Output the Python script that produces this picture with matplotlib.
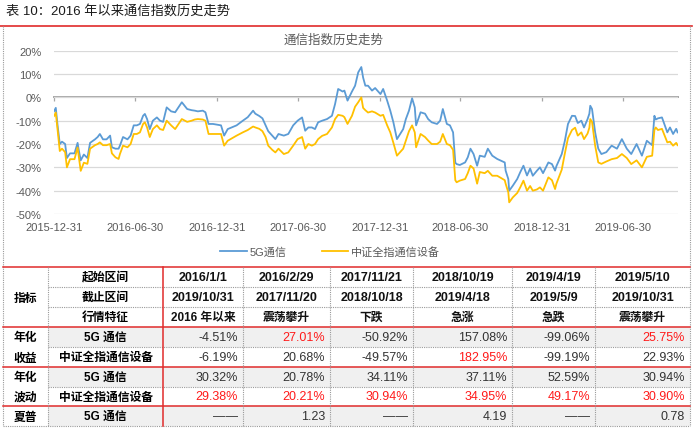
import matplotlib
matplotlib.use('Agg')
import matplotlib.pyplot as plt
import matplotlib.dates as mdates
import pandas as pd

plt.rcParams['font.family'] = ['Liberation Sans', 'Noto Sans CJK SC', 'DejaVu Sans']

# 走势数据（读图估计，%）
dates = [
    '2015-12-31', '2016-01-04', '2016-01-08', '2016-01-13', '2016-01-18', '2016-01-25', '2016-01-29',
    '2016-02-05', '2016-02-15', '2016-02-22', '2016-02-24', '2016-02-29', '2016-03-07', '2016-03-15',
    '2016-03-21', '2016-04-01', '2016-04-07', '2016-04-12', '2016-04-19', '2016-04-27', '2016-05-05',
    '2016-05-09', '2016-05-17', '2016-05-24', '2016-05-27', '2016-06-03', '2016-06-13', '2016-06-20',
    '2016-06-27', '2016-07-04', '2016-07-11', '2016-07-18', '2016-07-22', '2016-07-27', '2016-08-02',
    '2016-08-09', '2016-08-18', '2016-08-25', '2016-09-01', '2016-09-09', '2016-09-19', '2016-09-28',
    '2016-10-13', '2016-10-25', '2016-11-04', '2016-11-11', '2016-11-18', '2016-11-29', '2016-12-05',
    '2016-12-12', '2016-12-22', '2017-01-09', '2017-01-16', '2017-01-24', '2017-02-13', '2017-02-27',
    '2017-03-10', '2017-03-22', '2017-03-27', '2017-04-05', '2017-04-12', '2017-04-19', '2017-04-25',
    '2017-05-04', '2017-05-11', '2017-05-18', '2017-05-30', '2017-06-09', '2017-06-20', '2017-06-30',
    '2017-07-10', '2017-07-17', '2017-07-24', '2017-08-01', '2017-08-08', '2017-08-15', '2017-08-24',
    '2017-09-04', '2017-09-15', '2017-09-22', '2017-09-29', '2017-10-09', '2017-10-13', '2017-10-20',
    '2017-10-30', '2017-11-06', '2017-11-13', '2017-11-20', '2017-11-24', '2017-11-29', '2017-12-05',
    '2017-12-14', '2017-12-21', '2018-01-02', '2018-01-08', '2018-01-17', '2018-01-24', '2018-01-31',
    '2018-02-08', '2018-02-22', '2018-02-28', '2018-03-07', '2018-03-14', '2018-03-20', '2018-03-23',
    '2018-04-02', '2018-04-12', '2018-04-19', '2018-04-27', '2018-05-09', '2018-05-16', '2018-05-22',
    '2018-05-31', '2018-06-07', '2018-06-14', '2018-06-19', '2018-06-22', '2018-06-29', '2018-07-11',
    '2018-07-17', '2018-07-23', '2018-07-30', '2018-08-07', '2018-08-13', '2018-08-24', '2018-08-31',
    '2018-09-10', '2018-09-21', '2018-10-08', '2018-10-10', '2018-10-16', '2018-10-18', '2018-10-26',
    '2018-11-05', '2018-11-12', '2018-11-19', '2018-11-27', '2018-12-04', '2018-12-10', '2018-12-19',
    '2018-12-26', '2019-01-02', '2019-01-14', '2019-01-22', '2019-01-29', '2019-02-01', '2019-02-13',
    '2019-02-20', '2019-02-27', '2019-03-08', '2019-03-15', '2019-03-21', '2019-03-29', '2019-04-04',
    '2019-04-12', '2019-04-16', '2019-04-18', '2019-04-22', '2019-04-29', '2019-05-06', '2019-05-13',
    '2019-05-24', '2019-06-05', '2019-06-17', '2019-06-28', '2019-07-09', '2019-07-19', '2019-07-31',
    '2019-08-12', '2019-08-23', '2019-09-04', '2019-09-09', '2019-09-12', '2019-09-17', '2019-09-26',
    '2019-10-08', '2019-10-14', '2019-10-21', '2019-10-28', '2019-10-31',
]
g5 = [
    -6.0, -4.5, -12.0, -20.0, -19.0, -20.0, -26.0,
    -24.0, -24.0, -19.5, -22.0, -27.0, -24.5, -26.0,
    -19.5, -18.0, -17.0, -15.7, -18.0, -18.0, -16.4,
    -21.4, -22.0, -22.0, -20.7, -17.0, -18.0, -16.4,
    -12.0, -12.0, -11.4, -7.9, -7.1, -9.3, -13.6,
    -10.0, -8.6, -10.0, -10.5, -4.3, -6.0, -6.4,
    -2.1, -5.0, -5.5, -5.7, -6.0, -5.7, -6.4,
    -11.4, -11.4, -12.0, -16.4, -13.6, -12.0, -10.0,
    -8.5, -5.7, -7.0, -8.0, -9.0, -12.0, -14.5,
    -16.4, -17.9, -15.7, -16.4, -15.7, -12.0, -10.0,
    -8.6, -14.3, -12.9, -12.9, -13.6, -10.7, -10.0,
    -9.3, -7.9, -2.9, 3.6, 2.5, 2.9, -1.4,
    2.5, 5.0, 10.7, 13.0, 8.5, 5.0, 5.0,
    2.9, 4.0, 1.4, 3.6, -1.4, -5.7, -10.7,
    -17.9, -13.6, -9.3, -5.7, -0.4, -4.3, -12.0,
    -6.4, -7.0, -9.3, -10.7, -11.4, -10.0, -5.0,
    -11.4, -12.0, -15.0, -28.0, -28.6, -29.0, -27.9,
    -25.7, -22.0, -24.3, -29.3, -25.0, -25.5, -22.0,
    -25.0, -26.4, -27.9, -31.4, -35.0, -40.0, -37.9,
    -35.0, -32.0, -29.3, -33.5, -30.5, -33.6, -31.5,
    -30.0, -32.5, -27.9, -28.6, -31.4, -29.5, -24.3,
    -18.6, -11.4, -7.9, -8.0, -11.0, -10.0, -12.9,
    -9.3, -7.0, -3.6, -5.0, -15.0, -22.0, -24.3,
    -23.5, -20.7, -22.0, -17.9, -22.0, -24.3, -20.0,
    -25.0, -18.6, -20.5, -7.9, -9.5, -9.0, -8.6,
    -15.0, -12.9, -15.7, -13.5, -15.0,
]
equip = [
    -8.0, -6.5, -14.0, -23.0, -22.0, -23.5, -30.0,
    -26.5, -26.5, -21.5, -24.5, -31.5, -28.0, -28.5,
    -22.0, -20.5, -20.0, -19.3, -20.5, -20.5, -20.0,
    -24.0, -25.7, -26.4, -24.3, -20.7, -21.4, -20.0,
    -15.7, -15.7, -15.0, -11.4, -10.7, -12.9, -17.0,
    -13.6, -12.0, -13.6, -14.0, -10.0, -12.0, -13.6,
    -9.3, -10.5, -10.0, -9.5, -9.3, -9.5, -10.0,
    -15.7, -15.7, -15.7, -20.7, -18.6, -16.4, -15.0,
    -14.0, -12.5, -12.9, -13.5, -14.5, -17.0, -20.7,
    -22.5, -23.6, -22.0, -24.3, -23.6, -20.7, -17.9,
    -17.0, -22.0, -20.0, -20.7, -20.0, -17.9, -16.5,
    -15.7, -12.9, -9.3, -7.5, -7.9, -8.5, -11.4,
    -7.9, -4.0, -2.1, 0.0, -4.5, -5.5, -6.5,
    -6.0, -6.5, -7.9, -7.5, -12.0, -15.0, -19.5,
    -25.0, -22.0, -18.5, -14.5, -12.0, -15.0, -21.4,
    -15.7, -17.0, -18.5, -20.0, -20.0, -19.0, -15.7,
    -20.0, -20.5, -22.5, -35.5, -36.4, -35.7, -35.0,
    -32.5, -29.3, -30.5, -37.0, -32.0, -32.5, -31.5,
    -33.6, -33.6, -35.5, -37.0, -40.7, -45.0, -42.9,
    -41.0, -38.5, -35.7, -40.0, -38.0, -40.0, -39.5,
    -38.6, -40.0, -34.3, -35.5, -39.3, -37.0, -31.0,
    -24.0, -17.5, -14.0, -13.0, -16.4, -15.0, -17.9,
    -15.5, -13.0, -9.3, -10.5, -20.7, -27.9, -28.5,
    -27.5, -26.5, -26.0, -24.3, -26.0, -28.6, -27.0,
    -30.0, -25.5, -25.0, -14.0, -12.9, -14.0, -13.5,
    -19.3, -19.0, -20.7, -19.5, -20.5,
]
tick_dates = ['2015-12-31', '2016-06-30', '2016-12-31', '2017-06-30',
              '2017-12-31', '2018-06-30', '2018-12-31', '2019-06-30']
y_ticks = [-50, -40, -30, -20, -10, 0, 10, 20]

# 表格数据
starts = ['2016/1/1', '2016/2/29', '2017/11/21', '2018/10/19', '2019/4/19', '2019/5/10']
ends = ['2019/10/31', '2017/11/20', '2018/10/18', '2019/4/18', '2019/5/9', '2019/10/31']
phases = ['2016 年以来', '震荡攀升', '下跌', '急涨', '急跌', '震荡攀升']
ret_5g = ['-4.51%', '27.01%', '-50.92%', '157.08%', '-99.06%', '25.75%']
ret_eq = ['-6.19%', '20.68%', '-49.57%', '182.95%', '-99.19%', '22.93%']
vol_5g = ['30.32%', '20.78%', '34.11%', '37.11%', '52.59%', '30.94%']
vol_eq = ['29.38%', '20.21%', '30.94%', '34.95%', '49.17%', '30.90%']
sharpe_5g = ['——', '1.23', '——', '4.19', '——', '0.78']
item_labels = ['起始区间', '截止区间', '行情特征', '5G 通信', '中证全指通信设备',
               '5G 通信', '中证全指通信设备', '5G 通信']
table_rows = [starts, ends, phases, ret_5g, ret_eq, vol_5g, vol_eq, sharpe_5g]
red_flags = [[0] * 6, [0] * 6, [0] * 6, [0, 1, 0, 0, 0, 1], [0, 0, 0, 1, 0, 0],
             [0] * 6, [1] * 6, [0] * 6]

BLUE = '#5b9bd5'
GOLD = '#ffc000'
RED = '#e02b2b'
GREY = '#595959'
CJK = ['Noto Sans CJK SC', 'DejaVu Sans']

fig = plt.figure(figsize=(7, 4.35), dpi=100)

# 背景层（像素坐标）
bg = fig.add_axes([0, 0, 1, 1])
bg.set_xlim(0, 700)
bg.set_ylim(435, 0)
bg.axis('off')

fig.text(6 / 700, 1 - 11 / 435, '表 10：2016 年以来通信指数历史走势', fontsize=9.5,
         ha='left', va='center', color='#1a1a1a')
bg.plot([0, 692], [27, 27], color=RED, lw=1.2)

dot = dict(color='#9a9a9a', lw=0.8, ls=(0, (1, 1)))
bg.plot([3, 3], [27, 427], **dot)
bg.plot([690, 690], [27, 427], **dot)

# 折线图
ax = fig.add_axes([54 / 700, 1 - 215 / 435, 624 / 700, 163.3 / 435])
x = pd.to_datetime(dates)
ax.plot(x, g5, color=BLUE, lw=1.3, label='5G通信', zorder=3)
ax.plot(x, equip, color=GOLD, lw=1.3, label='中证全指通信设备', zorder=4)
ax.set_ylim(-50, 20)
ax.set_xlim(pd.Timestamp('2015-12-31'), pd.Timestamp('2019-11-01'))
ax.set_yticks(y_ticks)
ax.set_yticklabels([f'{v}%' for v in y_ticks])
ax.set_xticks(pd.to_datetime(tick_dates))
ax.xaxis.set_major_formatter(mdates.DateFormatter('%Y-%m-%d'))
ax.tick_params(axis='both', length=0, labelsize=8, labelcolor=GREY)
ax.tick_params(axis='y', pad=9)
ax.tick_params(axis='x', pad=6)
ax.yaxis.grid(True, color='#d9d9d9', lw=0.9)
ax.set_axisbelow(True)
for s in ax.spines.values():
    s.set_visible(False)
ax.set_facecolor('none')

zero = ax.secondary_xaxis(50 / 70)
zero.set_xticks(pd.to_datetime(tick_dates))
zero.set_xticklabels([])
zero.tick_params(direction='in', length=3, color='#a6a6a6', width=0.9)
zero.spines['top'].set_color('#a6a6a6')
zero.spines['bottom'].set_color('#a6a6a6')
zero.spines['top'].set_linewidth(1.4)
zero.spines['bottom'].set_linewidth(1.4)

fig.text(334 / 700, 1 - 40 / 435, '通信指数历史走势', fontsize=9, ha='center', va='center',
         color=GREY, family=CJK)

fig.legend(loc='center', bbox_to_anchor=(330 / 700, 1 - 252 / 435), ncol=2, frameon=False,
           fontsize=8, handlelength=2.4, handletextpad=0.2, columnspacing=3.2,
           labelcolor=GREY)

# 表格
row_edges = [268, 288, 308, 328, 348, 368, 388, 407, 427]
col_edges = [3, 48, 163, 243, 330, 413, 512, 595, 690]

for r in (3, 5, 7):
    bg.fill_between([col_edges[1], col_edges[-1]], row_edges[r], row_edges[r + 1],
                    color='#f0f0f0', lw=0)

for i, yv in enumerate(row_edges):
    if i in (0, 3, 5, 7):
        bg.plot([3, 690], [yv, yv], color=RED, lw=1.1)
    elif i == 8:
        bg.plot([3, 690], [yv, yv], **dot)
    else:
        bg.plot([col_edges[1], 690], [yv, yv], **dot)
for j, xv in enumerate(col_edges[1:-1], start=1):
    if j == 2:
        bg.plot([xv, xv], [268, 427], color=RED, lw=1.1)
    else:
        bg.plot([xv, xv], [268, 427], **dot)

mid = [(row_edges[i] + row_edges[i + 1]) / 2 for i in range(8)]
c1 = (col_edges[0] + col_edges[1]) / 2
bg.text(c1, mid[1], '指标', ha='center', va='center', fontsize=8.5, weight='bold', family=CJK)
for r, t in [(3, '年化'), (4, '收益'), (5, '年化'), (6, '波动'), (7, '夏普')]:
    bg.text(c1, mid[r], t, ha='center', va='center', fontsize=8.5, weight='bold', family=CJK)

c2 = (col_edges[1] + col_edges[2]) / 2
for r, t in enumerate(item_labels):
    bg.text(c2, mid[r], t, ha='center', va='center', fontsize=8.5, weight='bold')

for r, vals in enumerate(table_rows):
    for j, t in enumerate(vals):
        left, right = col_edges[j + 2], col_edges[j + 3]
        if r < 3:
            bg.text((left + right) / 2, mid[r], t, ha='center', va='center',
                    fontsize=9 if r < 2 else 8.5, weight='bold', color='#111111')
        else:
            bg.text(right - 5, mid[r], t, ha='right', va='center', fontsize=9,
                    color='#ff1a1a' if red_flags[r][j] else '#333333')

fig.savefig('out.png', dpi=100)
